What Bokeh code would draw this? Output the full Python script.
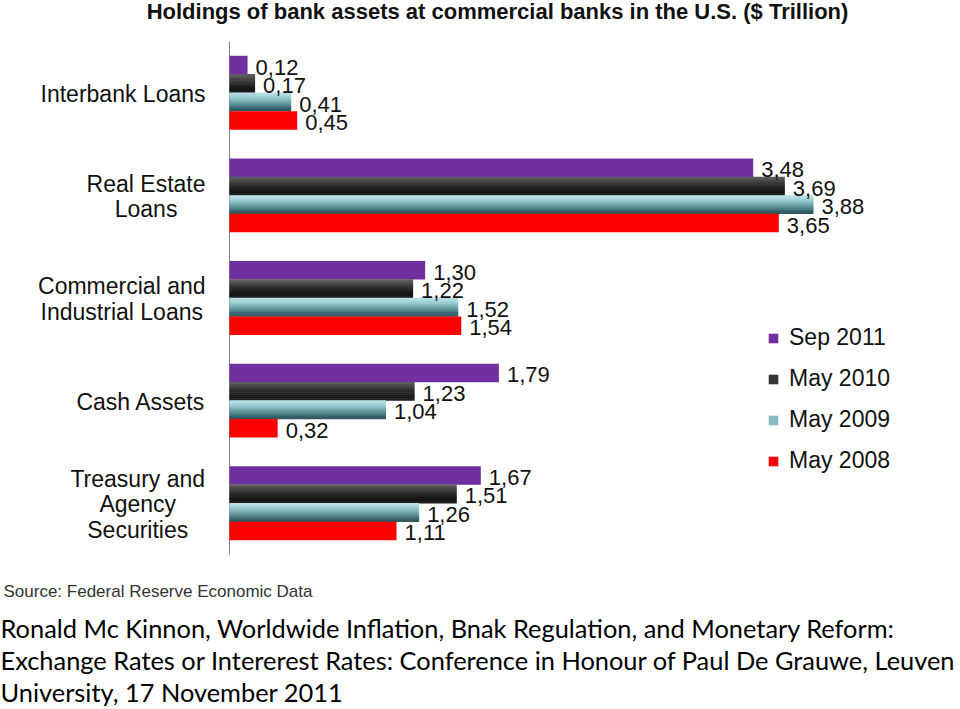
from bokeh.plotting import figure
from bokeh.models import (ColumnDataSource, Range1d, LabelSet, Label, Legend, LegendItem)
from bokeh.transform import dodge
from bokeh.core.properties import value
from bokeh.embed import file_html
from bokeh.resources import INLINE

# ---------------- data ----------------
categories = ["Interbank Loans", "Real Estate Loans", "Commercial and Industrial Loans",
              "Cash Assets", "Treasury and Agency Securities"]
category_lines = [["Interbank Loans"], ["Real Estate", "Loans"],
                  ["Commercial and", "Industrial Loans"], ["Cash Assets"],
                  ["Treasury and", "Agency", "Securities"]]
series_names = ["Sep 2011", "May 2010", "May 2009", "May 2008"]
sep_2011 = [0.12, 3.48, 1.30, 1.79, 1.67]
may_2010 = [0.17, 3.69, 1.22, 1.23, 1.51]
may_2009 = [0.41, 3.88, 1.52, 1.04, 1.26]
may_2008 = [0.45, 3.65, 1.54, 0.32, 1.11]

title_text = "Holdings of bank assets at commercial banks in the U.S. ($ Trillion)"
source_text = "Source: Federal Reserve Economic Data"
caption_lines = ["Ronald Mc Kinnon, Worldwide Inflation, Bnak Regulation, and Monetary Reform:",
                 "Exchange Rates or Intererest Rates: Conference in Honour of Paul De Grauwe, Leuven",
                 "University, 17 November 2011"]

# ---------------- layout / style ----------------
W, H = 960, 709
AXIS_PX = 229          # page x of the value axis (zero)
TOP_PX, BOTTOM_PX = 41, 554   # page y of the category band
PPU = 150.5            # pixels per trillion
NCAT = len(categories)
PITCH = (BOTTOM_PX - TOP_PX) / NCAT
BAR_H = 0.18
FONT = "Liberation Sans"
LABEL_PX = 23
LINE_PX = 25.5


def px2x(px):
    return (px - AXIS_PX) / PPU


def py2y(py):
    return (BOTTOM_PX - py) / PITCH


PURPLE = "#7030A0"
RED = "#FF0000"
BLACK_BANDS = ["#5c5c5c", "#4e4e4e", "#414141", "#353535", "#2a2a2a",
               "#212121", "#1a1a1a", "#151515", "#1e1e1e"]
TEAL_BANDS = ["#b6e1e5", "#a8d7dc", "#98ccd1", "#86bdc3", "#73aab1",
              "#5f969d", "#4c8188", "#3b6b72", "#2f5a60"]

series = [sep_2011, may_2010, may_2009, may_2008]
keys = ["s0", "s1", "s2", "s3"]
offsets = [1.5 * BAR_H, 0.5 * BAR_H, -0.5 * BAR_H, -1.5 * BAR_H]

ypos = [NCAT - 0.5 - i for i in range(NCAT)]
data = {"cat": categories, "y": ypos}
for k, s in zip(keys, series):
    data[k] = s
    data[k + "_txt"] = [f"{v:.2f}".replace(".", ",") for v in s]
src = ColumnDataSource(data)

p = figure(width=W, height=H,
           x_range=Range1d(px2x(0), px2x(W)),
           y_range=Range1d(py2y(H), py2y(0)),
           output_backend="svg", toolbar_location=None,
           x_axis_location=None, y_axis_location=None,
           min_border=0, min_border_left=0, min_border_right=0,
           min_border_top=0, min_border_bottom=0)
p.outline_line_color = None
p.grid.visible = False
p.background_fill_color = "white"
p.border_fill_color = "white"

# value axis line (zero line spanning the category band)
p.segment(x0=[0], y0=[0], x1=[0], y1=[NCAT], line_color="#868686", line_width=1)


def solid(key, off, color):
    return p.hbar(y=dodge("y", off), left=0, right=key, height=BAR_H,
                  source=src, fill_color=color, line_color=None)


def banded(key, off, colors):
    n = len(colors)
    bh = BAR_H / n
    rs = []
    for i, c in enumerate(colors):
        centre = off + BAR_H / 2 - (i + 0.5) * bh
        rs.append(p.hbar(y=dodge("y", centre), left=0, right=key,
                         height=bh * 1.25, source=src, fill_color=c, line_color=None))
    return rs


r0 = solid("s0", offsets[0], PURPLE)
r1 = banded("s1", offsets[1], BLACK_BANDS)
r2 = banded("s2", offsets[2], TEAL_BANDS)
r3 = solid("s3", offsets[3], RED)

# value labels
for k, off in zip(keys, offsets):
    p.add_layout(LabelSet(x=k, y=dodge("y", off), text=k + "_txt",
                          source=src, x_offset=8, y_offset=-2,
                          text_font=value(FONT), text_font_size="22px",
                          text_color="#111111", text_baseline="middle", text_align="left"))

# category labels (right-flush block, centred lines)
ARIAL = {" ": 278, "A": 667, "C": 722, "E": 667, "I": 278, "L": 556, "R": 722, "S": 667,
         "T": 611, "a": 556, "b": 556, "c": 500, "d": 556, "e": 556, "g": 556, "h": 556,
         "i": 222, "k": 500, "l": 222, "m": 833, "n": 556, "o": 556, "r": 333, "s": 500,
         "t": 278, "u": 556, "y": 500}


def text_w(s, px):
    return sum(ARIAL.get(ch, 556) for ch in s) * px / 1000.0


RIGHT_EDGE_PX = 205
lx, ly, lt = [], [], []
for yc, lines in zip(ypos, category_lines):
    centre_px = RIGHT_EDGE_PX - max(text_w(l, LABEL_PX) for l in lines) / 2
    n = len(lines)
    for k, line in enumerate(lines):
        lx.append(px2x(centre_px))
        ly.append(yc - (k - (n - 1) / 2) * LINE_PX / PITCH)
        lt.append(line)
lab_src = ColumnDataSource({"x": lx, "y": ly, "txt": lt})
p.add_layout(LabelSet(x="x", y="y", text="txt", source=lab_src, y_offset=-1,
                      text_font=value(FONT), text_font_size=f"{LABEL_PX}px",
                      text_color="#111111", text_align="center", text_baseline="middle"))

# legend
legend = Legend(items=[LegendItem(label=series_names[0], renderers=[r0]),
                       LegendItem(label=series_names[1], renderers=[r1[3]]),
                       LegendItem(label=series_names[2], renderers=[r2[3]]),
                       LegendItem(label=series_names[3], renderers=[r3])],
                location=(767, H - 474), orientation="vertical",
                border_line_color=None, background_fill_alpha=0,
                padding=0, margin=0, spacing=14,
                glyph_width=12, glyph_height=12, label_height=27, label_standoff=10,
                label_text_font=FONT, label_text_font_size="23px",
                label_text_color="#111111")
p.add_layout(legend)

# title
p.add_layout(Label(x=px2x(497), y=py2y(11), text=title_text, text_font=FONT,
                   text_font_style="bold", text_font_size="22px", text_color="#111111",
                   text_align="center", text_baseline="middle"))
# source
p.add_layout(Label(x=px2x(3), y=py2y(591), text=source_text, text_font=FONT,
                   text_font_size="17px", text_color="#333333",
                   text_align="left", text_baseline="middle"))
# caption
for line, mid in zip(caption_lines, [627, 659, 691]):
    p.add_layout(Label(x=px2x(0), y=py2y(mid), text=line, text_font="Lato",
                       text_font_size="25.4px", text_color="#000000",
                       text_align="left", text_baseline="middle"))

html = file_html(p, INLINE)
html = html.replace("<head>", "<head><style>html,body{margin:0;padding:0;overflow:hidden;}</style>", 1)
open("out.html", "w").write(html)
